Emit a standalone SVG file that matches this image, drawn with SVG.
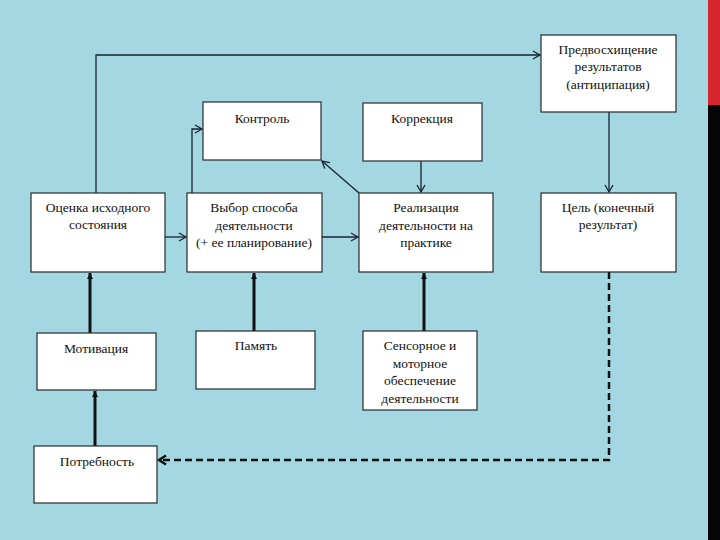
<svg xmlns="http://www.w3.org/2000/svg" width="720" height="540" viewBox="0 0 720 540">
<defs>
<style>
.box{fill:#ffffff;stroke:#2a2a2a;stroke-width:1.2}
.t{font-family:"Liberation Serif","DejaVu Serif",serif;font-size:13.5px;fill:#111;text-anchor:middle}
.thin{fill:none;stroke:#1a2230;stroke-width:1.3}
.thick{fill:none;stroke:#111;stroke-width:3}
.dash{fill:none;stroke:#111;stroke-width:2.5;stroke-dasharray:7,4}
</style>
<marker id="open" markerWidth="10" markerHeight="10" refX="8" refY="5" orient="auto" markerUnits="userSpaceOnUse">
<path d="M1,1 L8,5 L1,9" fill="none" stroke="#1a2230" stroke-width="1.3"/>
</marker>
<marker id="openB" markerWidth="12" markerHeight="12" refX="9" refY="6" orient="auto" markerUnits="userSpaceOnUse">
<path d="M2,1.5 L9,6 L2,10.5" fill="none" stroke="#111" stroke-width="2.5"/>
</marker>
<marker id="solid" markerWidth="8" markerHeight="8" refX="6" refY="4" orient="auto" markerUnits="userSpaceOnUse">
<path d="M0,1 L6,4 L0,7 Z" fill="#111"/>
</marker>
</defs>
<rect x="0" y="0" width="720" height="540" fill="#a3d7e2"/>
<rect x="708" y="0" width="12" height="105" fill="#d7262c"/>
<rect x="708" y="105" width="12" height="435" fill="#050505"/>

<g id="connectors">
<path class="thin" d="M96,193 V55 H540" marker-end="url(#open)"/>
<path class="thin" d="M192,193 V129 H202" marker-end="url(#open)"/>
<path class="thin" d="M359,193 L322,161" marker-end="url(#open)"/>
<path class="thin" d="M421,161 V192" marker-end="url(#open)"/>
<path class="thin" d="M609,112 V192" marker-end="url(#open)"/>
<path class="thin" d="M165,237 H186" marker-end="url(#open)"/>
<path class="thin" d="M322,237 H358" marker-end="url(#open)"/>
<path class="thick" d="M90,333 V273" marker-end="url(#solid)"/>
<path class="thick" d="M254,331 V273" stroke-width="2.5" marker-end="url(#solid)"/>
<path class="thick" d="M424,331 V273" stroke-width="4" marker-end="url(#solid)"/>
<path class="thick" d="M95,446 V391" marker-end="url(#solid)"/>
<path class="dash" d="M609,272 V460 H159" marker-end="url(#openB)"/>
</g>

<g id="n-anticip"><rect class="box" x="541" y="35" width="135" height="77"/>
<text class="t" x="608" y="54">Предвосхищение</text><text class="t" x="608" y="71">результатов</text><text class="t" x="608" y="89">(антиципация)</text></g>
<g id="n-kontrol"><rect class="box" x="203" y="102" width="118" height="58"/>
<text class="t" x="262" y="123">Контроль</text></g>
<g id="n-korrekcia"><rect class="box" x="363" y="103" width="119" height="58"/>
<text class="t" x="422" y="123">Коррекция</text></g>
<g id="n-ocenka"><rect class="box" x="31" y="193" width="134" height="79"/>
<text class="t" x="98" y="212">Оценка исходного</text><text class="t" x="98" y="229">состояния</text></g>
<g id="n-vybor"><rect class="box" x="187" y="193" width="135" height="79"/>
<text class="t" x="254" y="212">Выбор способа</text><text class="t" x="254" y="230">деятельности</text><text class="t" x="254" y="247">(+ ее планирование)</text></g>
<g id="n-realiz"><rect class="box" x="359" y="193" width="134" height="79"/>
<text class="t" x="426" y="212">Реализация</text><text class="t" x="426" y="230">деятельности на</text><text class="t" x="426" y="247">практике</text></g>
<g id="n-cel"><rect class="box" x="541" y="193" width="135" height="79"/>
<text class="t" x="608" y="212">Цель (конечный</text><text class="t" x="608" y="229">результат)</text></g>
<g id="n-motiv"><rect class="box" x="37" y="333" width="119" height="57"/>
<text class="t" x="96" y="353">Мотивация</text></g>
<g id="n-pamyat"><rect class="box" x="196" y="331" width="119" height="58"/>
<text class="t" x="256" y="350">Память</text></g>
<g id="n-sensor"><rect class="box" x="363" y="331" width="114" height="79"/>
<text class="t" x="420" y="350">Сенсорное и</text><text class="t" x="420" y="368">моторное</text><text class="t" x="420" y="385">обеспечение</text><text class="t" x="420" y="403">деятельности</text></g>
<g id="n-potreb"><rect class="box" x="34" y="446" width="123" height="57"/>
<text class="t" x="97" y="466">Потребность</text></g>
</svg>
